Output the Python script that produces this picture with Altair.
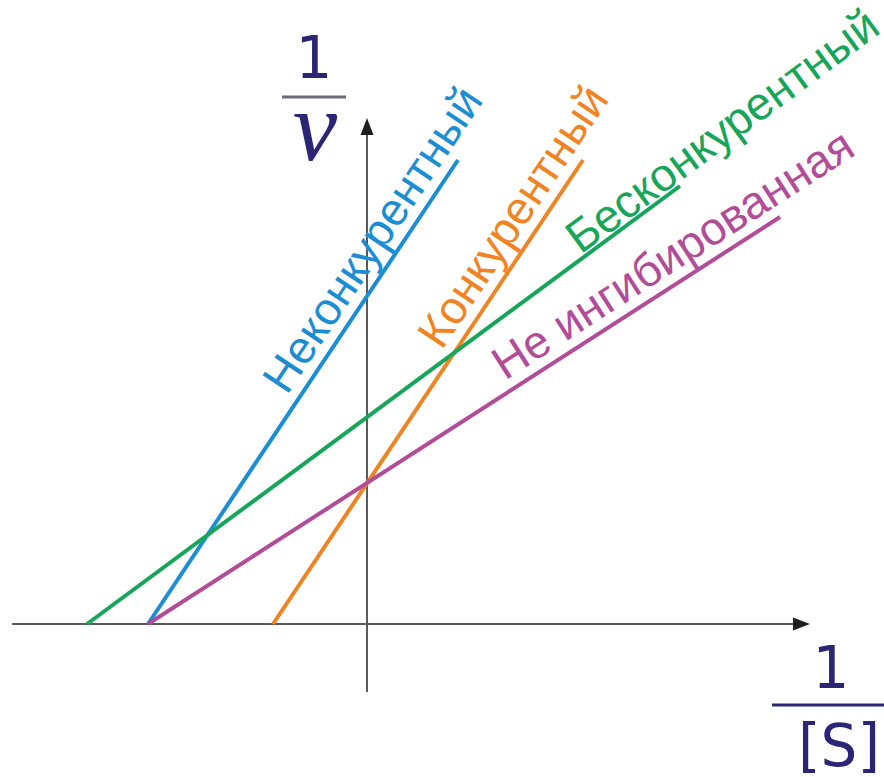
import math
import altair as alt
import pandas as pd

# Lineweaver–Burk plot: four inhibition regimes
series = ["Неконкурентный", "Конкурентный", "Бесконкурентный", "Не ингибированная"]
x_start = [-2.19, -0.94, -2.80, -2.19]
y_start = [0.0, 0.0, 0.0, 0.0]
x_end = [0.91, 2.16, 3.13, 4.13]
y_end = [4.64, 4.64, 4.38, 4.07]
colors = ["#1b8dd2", "#f08423", "#17a659", "#b24c98"]

# where each label starts along its line, and its lift off the line (px)
label_x = [-0.71, 0.84, 2.16, 1.44]
label_y = [2.22, 2.67, 3.66, 2.34]
label_lift = [11, 11, 4, 11]

X_DOMAIN = [-3.67, 5.17]
Y_DOMAIN = [-1.53, 6.24]
W, H = 884, 777
NAVY = "#2a2574"
AXIS = "#5a5a5a"

xs = alt.Scale(domain=X_DOMAIN, nice=False, zero=False)
ys = alt.Scale(domain=Y_DOMAIN, nice=False, zero=False)


def X(f):
    return alt.X(f, type="quantitative", scale=xs, axis=None)


def Y(f):
    return alt.Y(f, type="quantitative", scale=ys, axis=None)


def segment(xa, ya, xb, yb, color, width):
    df = pd.DataFrame({"x": [xa], "y": [ya], "x2": [xb], "y2": [yb]})
    return alt.Chart(df).mark_rule(color=color, strokeWidth=width).encode(
        x=X("x"), y=Y("y"), x2="x2:Q", y2="y2:Q"
    )


def arrow(x, y, shape):
    df = pd.DataFrame({"x": [x], "y": [y]})
    return alt.Chart(df).mark_point(
        shape=shape, size=1156, filled=True, color="#1e1e1e", opacity=1
    ).encode(x=X("x"), y=Y("y"))


def txt(s, x, y, size, font="DejaVu Sans", style="normal"):
    df = pd.DataFrame({"t": [s], "x": [x], "y": [y]})
    return alt.Chart(df).mark_text(
        font=font, fontSize=size, color=NAVY, align="center", baseline="alphabetic",
        fontStyle=style,
    ).encode(x=X("x"), y=Y("y"), text="t:N")


lines_df = pd.DataFrame({
    "name": series, "x0": x_start, "y0": y_start, "x1": x_end, "y1": y_end,
})

lines = alt.Chart(lines_df).mark_rule(strokeWidth=4, strokeCap="butt").encode(
    x=X("x0"),
    y=Y("y0"),
    x2="x1:Q",
    y2="y1:Q",
    color=alt.Color("name:N", scale=alt.Scale(domain=series, range=colors), legend=None),
)

# coordinate axes with arrowheads
layers = [
    segment(-3.55, 0.0, 4.32, 0.0, AXIS, 2),
    segment(0.0, -0.68, 0.0, 4.95, AXIS, 2),
    arrow(4.43, 0.0, "M0,0L-1,0.38L-1,-0.38Z"),
    arrow(0.0, 5.06, "M0,0L0.38,1L-0.38,1Z"),
    lines,
]

# rotated labels sitting on their lines
for name, col, lx, ly, lift, a0, b0, a1, b1 in zip(
        series, colors, label_x, label_y, label_lift, x_start, y_start, x_end, y_end):
    ang = (360 - math.degrees(math.atan2(b1 - b0, a1 - a0))) % 360
    layers.append(
        alt.Chart(pd.DataFrame({"t": [name], "x": [lx], "y": [ly]})).mark_text(
            font="Liberation Sans", fontSize=46, color=col, angle=ang,
            align="left", baseline="alphabetic", dy=-lift,
        ).encode(x=X("x"), y=Y("y"), text="t:N")
    )

# fraction labels of the axes
layers += [
    txt("1", -0.53, 5.46, 58),
    segment(-0.85, 5.27, -0.21, 5.27, "#6b6b7a", 3),
    txt("v", -0.52, 4.64, 100, font="Liberation Serif", style="italic"),
    txt("1", 4.64, -0.64, 58),
    segment(4.05, -0.81, 5.17, -0.81, NAVY, 3),
    txt("[S]", 4.72, -1.42, 58),
]

chart = alt.layer(*layers).properties(
    width=W, height=H, padding=0, autosize=alt.AutoSizeParams(type="none")
).configure_view(stroke=None)

chart.save("out.html", embed_options={"renderer": "svg", "actions": False})
